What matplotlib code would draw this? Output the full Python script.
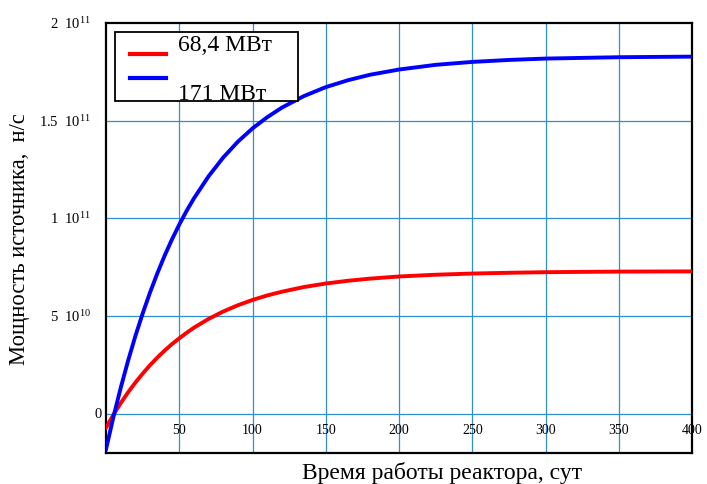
import matplotlib.pyplot as plt
from matplotlib.patches import Rectangle
from matplotlib.lines import Line2D

plt.rcParams['font.family'] = ['Liberation Serif', 'DejaVu Serif']
plt.rcParams['mathtext.fontset'] = 'custom'
plt.rcParams['mathtext.rm'] = 'Liberation Serif'
plt.rcParams['mathtext.it'] = 'Liberation Serif:italic'

# время работы, сут
t = [0, 5, 10, 15, 20, 25, 30, 35, 40, 45, 50, 55, 60, 70, 80, 90, 100, 110, 120,
     135, 150, 165, 180, 200, 225, 250, 275, 300, 350, 400]
# мощность источника, 1e9 н/с
q_68 = [-7.0, -0.5, 5.5, 11.0, 16.0, 20.6, 24.9, 28.8, 32.4, 35.7, 38.7, 41.5, 44.1,
        48.6, 52.4, 55.6, 58.3, 60.6, 62.5, 64.9, 66.7, 68.1, 69.2, 70.3, 71.2, 71.8,
        72.2, 72.5, 72.8, 72.9]
q_171 = [-18.0, -1.7, 13.3, 27.1, 39.8, 51.4, 62.1, 71.9, 81.0, 89.3, 96.9, 103.9,
         110.3, 121.6, 131.2, 139.3, 146.1, 151.8, 156.7, 162.6, 167.2, 170.7, 173.5,
         176.2, 178.6, 180.1, 181.1, 181.8, 182.5, 182.8]

x_ticks = [50, 100, 150, 200, 250, 300, 350, 400]
y_ticks = [0, 5e10, 1e11, 1.5e11, 2e11]
y_labels = ['0', r'$\mathrm{5\ \ 10^{10}}$', r'$\mathrm{1\ \ 10^{11}}$',
            r'$\mathrm{1.5\ \ 10^{11}}$', r'$\mathrm{2\ \ 10^{11}}$']

fig = plt.figure(figsize=(7.07, 4.85), dpi=100)
ax = fig.add_axes([0.150, 0.064, 0.829, 0.8865])

grid_c = '#2f8fcf'
for xv in x_ticks[:-1]:
    ax.axvline(xv, color=grid_c, lw=0.9, zorder=1)
for yv in y_ticks[:-1]:
    ax.axhline(yv, color=grid_c, lw=0.9, zorder=1)

ax.plot(t, [v * 1e9 for v in q_68], color='#ff0000', lw=2.8, zorder=3)
ax.plot(t, [v * 1e9 for v in q_171], color='#0000ff', lw=2.8, zorder=3)

ax.set_xlim(0, 400)
ax.set_ylim(-2e10, 2e11)
ax.set_xticks([])
ax.set_yticks([])

# подписи осей: y слева от рамки, x внутри области под нулевой линией
ytr = ax.get_yaxis_transform()
for yv, lab in zip(y_ticks, y_labels):
    xpos = -0.007 if yv == 0 else -0.026
    ax.text(xpos, yv, lab, transform=ytr, ha='right', va='center', fontsize=10.5)
for xv in x_ticks:
    ax.text(xv, -0.8e10, str(xv), ha='center', va='center', fontsize=10, zorder=4)

for s in ax.spines.values():
    s.set_linewidth(1.6)
    s.set_color('black')

ax.set_xlabel('Время работы реактора, сут', fontsize=17)
ax.xaxis.label.set_va('center')
ax.xaxis.set_label_coords(0.573, -0.044)
ax.set_ylabel('Мощность источника,  н/с', fontsize=16.3)
ax.yaxis.label.set_va('center')
ax.yaxis.set_label_coords(-0.147, 0.5)

# легенда
ax.add_patch(Rectangle((0.0154, 0.818), 0.3122, 0.161, transform=ax.transAxes,
                       facecolor='white', edgecolor='black', lw=1.3, zorder=5))
ax.add_line(Line2D([0.041, 0.102], [0.929, 0.929], transform=ax.transAxes,
                   color='#ff0000', lw=3, zorder=6))
ax.add_line(Line2D([0.041, 0.102], [0.871, 0.871], transform=ax.transAxes,
                   color='#0000ff', lw=3, zorder=6))
ax.text(0.123, 0.949, '68,4 МВт', transform=ax.transAxes, fontsize=17,
        va='center', ha='left', zorder=6)
ax.text(0.123, 0.837, '171 МВт', transform=ax.transAxes, fontsize=17,
        va='center', ha='left', zorder=6)

fig.savefig('out.png', dpi=100)
